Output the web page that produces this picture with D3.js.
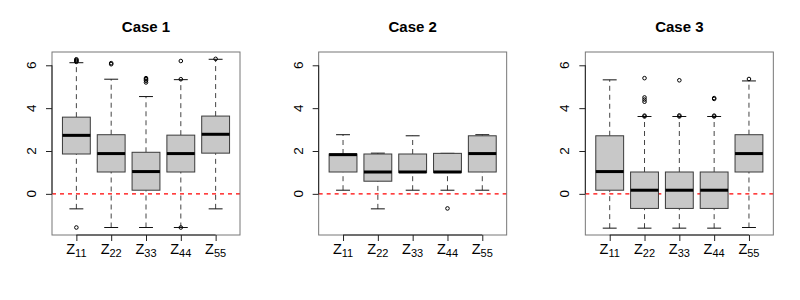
<!DOCTYPE html>
<html>
<head>
<meta charset="utf-8">
<script src="https://cdn.jsdelivr.net/npm/d3@7"></script>
<style>
  body { margin: 0; background: #fff; }
  text { font-family: "Liberation Sans", Arial, sans-serif; }
</style>
</head>
<body>
<svg id="chart" width="800" height="300"></svg>
<script>
// boxplot data
var titles = ["Case 1", "Case 2", "Case 3"];
var categories = ["11", "22", "33", "44", "55"];
var yTicks = [0, 2, 4, 6];

// [lower whisker, q1, median, q3, upper whisker]
var case1Stats = [
  [-0.70, 1.86, 2.73, 3.58, 6.12],
  [-1.57, 1.02, 1.88, 2.76, 5.35],
  [-1.57, 0.17, 1.04, 1.94, 4.54],
  [-1.57, 1.02, 1.88, 2.74, 5.33],
  [-0.70, 1.90, 2.78, 3.63, 6.28]
];
var case2Stats = [
  [0.17, 1.02, 1.83, 1.86, 2.76],
  [-0.70, 0.59, 1.02, 1.86, 1.90],
  [0.17, 1.00, 1.02, 1.86, 2.71],
  [0.17, 1.00, 1.02, 1.89, 1.89],
  [0.17, 1.02, 1.88, 2.71, 2.76]
];
var case3Stats = [
  [-1.60, 0.17, 1.04, 2.71, 5.32],
  [-1.60, -0.68, 0.17, 1.02, 3.61],
  [-1.60, -0.68, 0.17, 1.02, 3.61],
  [-1.60, -0.68, 0.17, 1.02, 3.61],
  [-1.57, 1.02, 1.88, 2.76, 5.27]
];

var case1Outliers = [
  [6.16, 6.20, 6.24, 6.28, -1.57],
  [6.05, 6.10],
  [5.20, 5.28, 5.35, 5.40],
  [6.20, 5.35, -1.57],
  [6.30]
];
var case2Outliers = [[], [], [], [-0.68], []];
var case3Outliers = [
  [],
  [3.61, 3.65, 4.30, 4.40, 4.50, 5.40],
  [3.61, 3.66, 5.30],
  [3.61, 3.65, 4.43, 4.47],
  [5.36]
];

var allStats = [case1Stats, case2Stats, case3Stats];
var allOutliers = [case1Outliers, case2Outliers, case3Outliers];

var svg = d3.select("#chart");
var panelW = 800 / 3;
var plotL = 52, plotR = 240, plotT = 52, plotB = 235;

// shared y range (R pads the data range by 4%)
var y = d3.scaleLinear().domain([-1.92, 6.62]).range([plotB, plotT]);
var x = d3.scaleLinear().domain([0.3, 5.7]).range([plotL, plotR]);
var boxW = (x(1.4) - x(1)) * 2; // boxwex 0.8

titles.forEach(function(title, p) {
  var g = svg.append("g").attr("transform", "translate(" + (p * panelW) + ",0)");
  var stats = allStats[p], outs = allOutliers[p];

  g.append("text")
    .attr("x", (plotL + plotR) / 2)
    .attr("y", 32)
    .attr("text-anchor", "middle")
    .attr("font-size", "15px")
    .attr("font-weight", "bold")
    .text(title);

  // zero reference line
  g.append("line")
    .attr("x1", plotL).attr("x2", plotR)
    .attr("y1", y(0)).attr("y2", y(0))
    .attr("stroke", "#ff0000")
    .attr("stroke-width", 1.2)
    .attr("stroke-dasharray", "4,4");

  categories.forEach(function(c, i) {
    var s = stats[i], cx = x(i + 1);

    // whiskers
    g.append("line")
      .attr("x1", cx).attr("x2", cx)
      .attr("y1", y(s[0])).attr("y2", y(s[1]))
      .attr("stroke", "#444").attr("stroke-dasharray", "5,4");
    g.append("line")
      .attr("x1", cx).attr("x2", cx)
      .attr("y1", y(s[3])).attr("y2", y(s[4]))
      .attr("stroke", "#444").attr("stroke-dasharray", "5,4");

    // caps
    [s[0], s[4]].forEach(function(v) {
      g.append("line")
        .attr("x1", cx - boxW / 4).attr("x2", cx + boxW / 4)
        .attr("y1", y(v)).attr("y2", y(v))
        .attr("stroke", "#111");
    });

    g.append("rect")
      .attr("x", cx - boxW / 2)
      .attr("y", y(s[3]))
      .attr("width", boxW)
      .attr("height", y(s[1]) - y(s[3]))
      .attr("fill", "#c8c8c8")
      .attr("stroke", "#3a3a3a");

    g.append("line")
      .attr("x1", cx - boxW / 2).attr("x2", cx + boxW / 2)
      .attr("y1", y(s[2])).attr("y2", y(s[2]))
      .attr("stroke", "#000").attr("stroke-width", 3);

    outs[i].forEach(function(v) {
      g.append("circle")
        .attr("cx", cx).attr("cy", y(v))
        .attr("r", 1.8)
        .attr("fill", "none")
        .attr("stroke", "#000");
    });
  });

  // frame
  g.append("rect")
    .attr("x", plotL).attr("y", plotT)
    .attr("width", plotR - plotL).attr("height", plotB - plotT)
    .attr("fill", "none").attr("stroke", "#777");

  // y axis
  var ya = g.append("g").attr("transform", "translate(" + plotL + ",0)")
    .call(d3.axisLeft(y).tickValues(yTicks).tickSize(6).tickFormat(""));
  ya.select(".domain").attr("d", "M0," + y(yTicks[yTicks.length - 1]) + "V" + y(yTicks[0])).attr("stroke", "#222");
  ya.selectAll(".tick line").attr("stroke", "#222");
  yTicks.forEach(function(t) {
    g.append("text")
      .attr("transform", "translate(36," + y(t) + ") rotate(-90)")
      .attr("text-anchor", "middle")
      .attr("font-size", "13.5px")
      .text(t);
  });

  // x axis
  var xa = g.append("g").attr("transform", "translate(0," + plotB + ")")
    .call(d3.axisBottom(x).tickValues([1, 2, 3, 4, 5]).tickSize(6).tickFormat(""));
  xa.select(".domain").attr("d", "M" + x(1) + ",0H" + x(5)).attr("stroke", "#222");
  xa.selectAll(".tick line").attr("stroke", "#222");
  categories.forEach(function(c, i) {
    var t = g.append("text")
      .attr("x", x(i + 1))
      .attr("y", 254)
      .attr("text-anchor", "middle")
      .attr("font-size", "14.5px");
    t.append("tspan").text("Z");
    t.append("tspan").attr("dy", 3).attr("font-size", "11px").text(c);
  });
});
</script>
</body>
</html>
